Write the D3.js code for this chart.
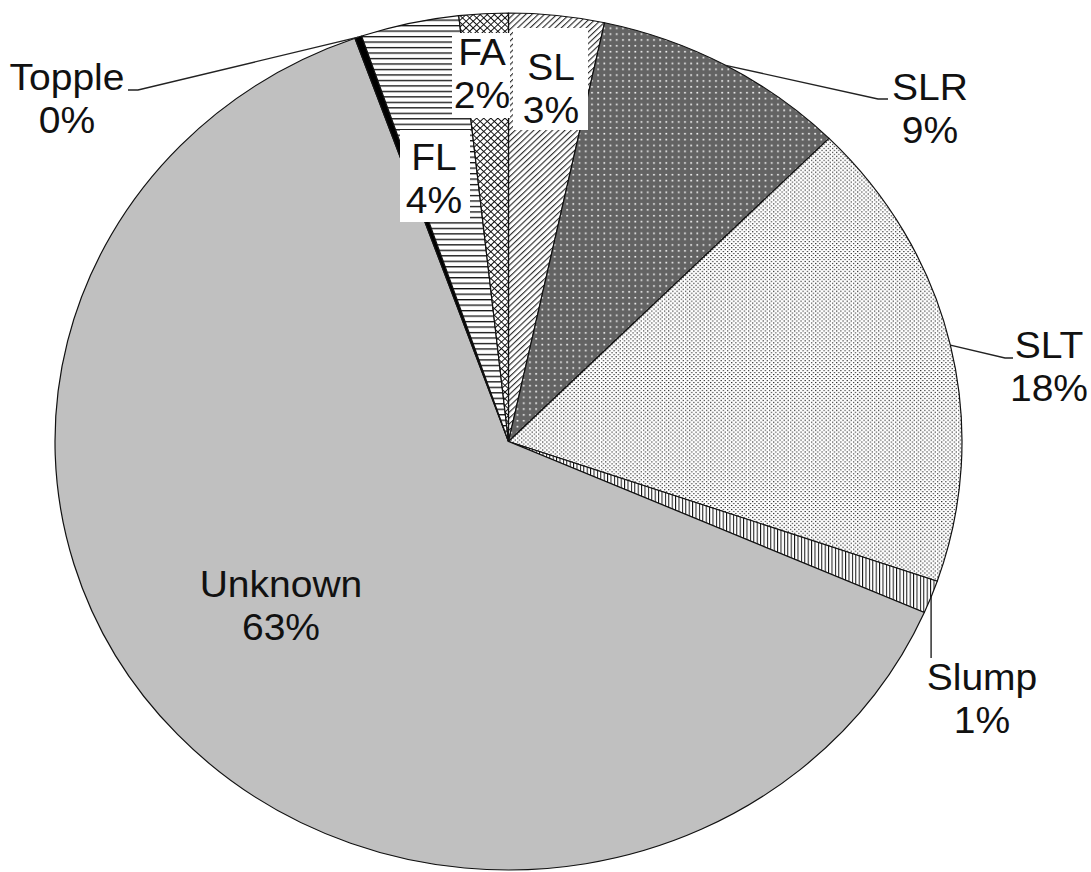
<!DOCTYPE html>
<html>
<head>
<meta charset="utf-8">
<script src="https://cdn.jsdelivr.net/npm/d3@7"></script>
<style>
  html, body { margin: 0; padding: 0; background: #fff; }
  svg { display: block; }
</style>
</head>
<body>
<script>
// ---- data ----
const categories = ["SL", "SLR", "SLT", "Slump", "Unknown", "Topple", "FL", "FA"];
const values = [3.4, 9.1, 17.8, 1.25, 63.0, 0.25, 3.5, 1.75];
const percentLabels = ["3%", "9%", "18%", "1%", "63%", "0%", "4%", "2%"];

// ---- layout ----
const W = 1091, H = 872;
const sy = 0.9449;              // vertical squash of the original picture
const Y = v => v / sy;          // picture y -> drawing y
const cx = 508.5, cy = Y(441.5), R = 453.5;
const fontSize = 39, lineGap = Y(43);

const labelLayout = {
  SL:      { x: 551,  base: 80,  box: [513, 28, 588, 130] },
  FA:      { x: 482,  base: 65,  box: [452, 33, 510, 118] },
  FL:      { x: 434,  base: 170, box: [400, 130, 470, 222] },
  Unknown: { x: 281,  base: 597 },
  Topple:  { x: 67,   base: 90,  leader: [[138, 90], [128, 90]] },
  SLR:     { x: 930,  base: 100, leader: [[878, 99], [888, 99]] },
  SLT:     { x: 1049, base: 358, leader: [[1005, 358], [1013, 358]] },
  Slump:   { x: 982,  base: 690, leader: [[null, 658]] }
};

const svg = d3.select("body").append("svg")
  .attr("width", W).attr("height", H);

const defs = svg.append("defs");

// SL: upward diagonal lines
const pSL = defs.append("pattern").attr("id", "pSL")
  .attr("patternUnits", "userSpaceOnUse").attr("width", 4.4).attr("height", 4.4)
  .attr("patternTransform", "rotate(45)");
pSL.append("rect").attr("width", 4.4).attr("height", 4.4).attr("fill", "#fff");
pSL.append("line").attr("x1", 0.6).attr("y1", 0).attr("x2", 0.6).attr("y2", 4.4)
  .attr("stroke", "#222").attr("stroke-width", 1.1);

// SLR: dark dotted grid
const pSLR = defs.append("pattern").attr("id", "pSLR")
  .attr("patternUnits", "userSpaceOnUse").attr("width", 6.2).attr("height", 6.2);
pSLR.append("rect").attr("width", 6.2).attr("height", 6.2).attr("fill", "#636363");
pSLR.append("rect").attr("x", 2).attr("y", 2).attr("width", 1.7).attr("height", 1.7).attr("fill", "#f4f4f4");

// SLT: light dots (staggered)
const pSLT = defs.append("pattern").attr("id", "pSLT")
  .attr("patternUnits", "userSpaceOnUse").attr("width", 4.2).attr("height", 4.2);
pSLT.append("rect").attr("width", 4.2).attr("height", 4.2).attr("fill", "#fff");
pSLT.append("rect").attr("x", 0).attr("y", 0).attr("width", 1.2).attr("height", 1.2).attr("fill", "#222");
pSLT.append("rect").attr("x", 2.1).attr("y", 2.1).attr("width", 1.2).attr("height", 1.2).attr("fill", "#222");

// Slump: vertical lines
const pSlump = defs.append("pattern").attr("id", "pSlump")
  .attr("patternUnits", "userSpaceOnUse").attr("width", 3.4).attr("height", 4);
pSlump.append("rect").attr("width", 3.4).attr("height", 4).attr("fill", "#fff");
pSlump.append("line").attr("x1", 0.5).attr("y1", 0).attr("x2", 0.5).attr("y2", 4)
  .attr("stroke", "#111").attr("stroke-width", 1);

// FL: horizontal lines
const pFL = defs.append("pattern").attr("id", "pFL")
  .attr("patternUnits", "userSpaceOnUse").attr("width", 4).attr("height", 5.8);
pFL.append("rect").attr("width", 4).attr("height", 5.8).attr("fill", "#fff");
pFL.append("line").attr("x1", 0).attr("y1", 0.7).attr("x2", 4).attr("y2", 0.7)
  .attr("stroke", "#111").attr("stroke-width", 1.4);

// FA: diagonal crosshatch
const pFA = defs.append("pattern").attr("id", "pFA")
  .attr("patternUnits", "userSpaceOnUse").attr("width", 5).attr("height", 5)
  .attr("patternTransform", "rotate(45)");
pFA.append("rect").attr("width", 5).attr("height", 5).attr("fill", "#fff");
pFA.append("line").attr("x1", 0.5).attr("y1", 0).attr("x2", 0.5).attr("y2", 5)
  .attr("stroke", "#111").attr("stroke-width", 1);
pFA.append("line").attr("x1", 0).attr("y1", 0.5).attr("x2", 5).attr("y2", 0.5)
  .attr("stroke", "#111").attr("stroke-width", 1);

const fills = {
  SL: "url(#pSL)", SLR: "url(#pSLR)", SLT: "url(#pSLT)", Slump: "url(#pSlump)",
  Unknown: "#c0c0c0", Topple: "#000", FL: "url(#pFL)", FA: "url(#pFA)"
};

const g = svg.append("g").attr("transform", `scale(1,${sy})`);

const data = categories.map((c, i) => ({ cat: c, value: values[i], pct: percentLabels[i] }));
const pie = d3.pie().sort(null).value(d => d.value).startAngle(0).endAngle(2 * Math.PI);
const arcs = pie(data);
const arc = d3.arc().innerRadius(0).outerRadius(R);
const edgeArc = d3.arc().innerRadius(R).outerRadius(R);

const pieG = g.append("g").attr("transform", `translate(${cx},${cy})`);
pieG.selectAll("path.slice").data(arcs).join("path")
  .attr("class", "slice")
  .attr("d", arc)
  .attr("fill", d => fills[d.data.cat])
  .attr("stroke", "#111")
  .attr("stroke-width", 1.2)
  .attr("stroke-linejoin", "round");

// leader lines
const leaderG = g.append("g");
arcs.forEach(d => {
  const L = labelLayout[d.data.cat];
  if (!L || !L.leader) return;
  const [ex, ey] = edgeArc.centroid(d);
  const pts = [[cx + ex, cy + ey]];
  L.leader.forEach(p => pts.push([p[0] === null ? cx + ex : p[0], Y(p[1])]));
  leaderG.append("path")
    .attr("d", d3.line()(pts))
    .attr("fill", "none")
    .attr("stroke", "#222")
    .attr("stroke-width", 1.4);
});

// label boxes and labels
const labG = g.append("g")
  .attr("font-family", "'Liberation Sans', Arial, Helvetica, sans-serif")
  .attr("font-size", fontSize)
  .attr("fill", "#111")
  .attr("text-anchor", "middle");

arcs.forEach(d => {
  const L = labelLayout[d.data.cat];
  if (!L) return;
  if (L.box) {
    labG.append("rect")
      .attr("x", L.box[0]).attr("y", Y(L.box[1]))
      .attr("width", L.box[2] - L.box[0]).attr("height", Y(L.box[3]) - Y(L.box[1]))
      .attr("fill", "#fff");
  }
  const t = labG.append("text").attr("x", L.x).attr("y", Y(L.base));
  t.append("tspan").attr("x", L.x).text(d.data.cat);
  t.append("tspan").attr("x", L.x).attr("dy", lineGap).text(d.data.pct);
});
</script>
</body>
</html>
